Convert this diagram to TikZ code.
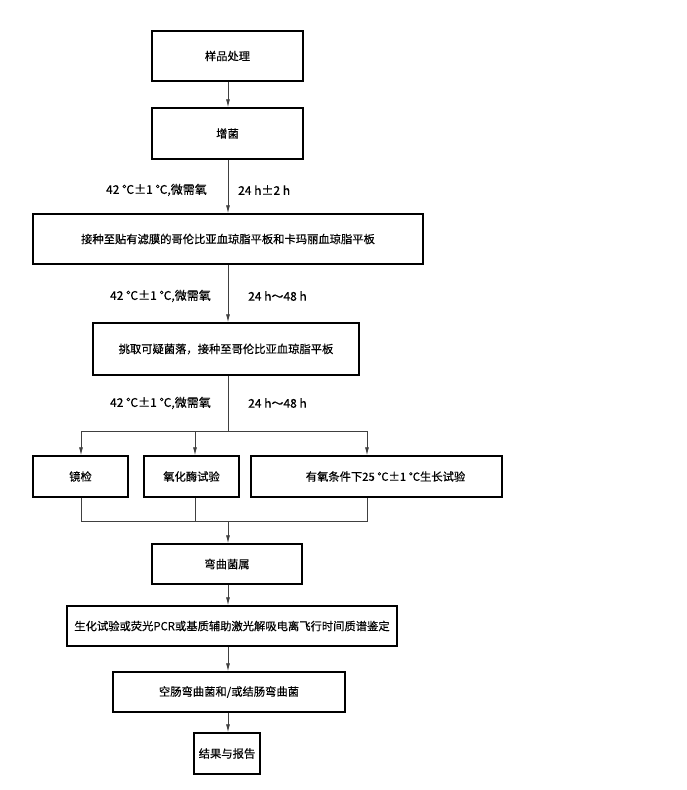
\documentclass[tikz,border=0pt]{standalone}
\usepackage{fontspec}
\setmainfont[FakeBold=0.4]{Noto Sans CJK SC}
\usetikzlibrary{arrows.meta}

\tikzstyle{box}=[draw, line width=1.4pt, inner sep=0pt, align=center, font=\fontsize{11.3}{13}\selectfont]
\tikzstyle{cond}=[inner sep=0pt, font=\fontsize{12}{14}\selectfont]
\tikzstyle{arrow}=[line width=0.8pt, black!75, -{Latex[length=8pt,width=4pt]}]
\tikzstyle{link}=[line width=0.8pt, black!75]

\begin{document}
\begin{tikzpicture}[x=1pt, y=-1pt]
      \useasboundingbox (0,0) rectangle (687,790);

      \node[box, minimum width=151pt, minimum height=50pt] (prep) at (227.5, 56) {样品处理};
      \node[box, minimum width=151pt, minimum height=51pt] (enrich) at (227.5, 133.5) {增菌};
      \node[box, minimum width=390pt, minimum height=50pt] (plate) at (228, 239) {接种至贴有滤膜的哥伦比亚血琼脂平板和卡玛丽血琼脂平板};
      \node[box, minimum width=266pt, minimum height=52pt] (pick) at (226, 349) {挑取可疑菌落，接种至哥伦比亚血琼脂平板};
      \node[box, minimum width=95pt, minimum height=41pt] (micro) at (80.5, 476.5) {镜检};
      \node[box, minimum width=95pt, minimum height=41pt] (oxid) at (191.5, 476.5) {氧化酶试验};
      \node[box, minimum width=251pt, minimum height=41pt] (growth) at (376.5, 476.5) {\hspace*{18pt}有氧条件下25 ℃±1 ℃生长试验};
      \node[box, minimum width=150pt, minimum height=40pt] (genus) at (227, 564) {弯曲菌属};
      \node[box, minimum width=330pt, minimum height=40pt] (ident) at (232, 626) {生化试验或荧光PCR或基质辅助激光解吸电离飞行时间质谱鉴定};
      \node[box, minimum width=232pt, minimum height=40pt] (species) at (229, 692) {空肠弯曲菌和/或结肠弯曲菌};
      \node[box, minimum width=66pt, minimum height=41pt] (report) at (227, 753.5) {结果与报告};

      \node[cond, anchor=east] (t1) at (207, 190) {42 ℃±1 ℃,微需氧};
      \node[cond, anchor=west] (h1) at (238, 190) {24 h±2 h};
      \node[cond, anchor=east] (t2) at (211, 296) {42 ℃±1 ℃,微需氧};
      \node[cond, anchor=west] (h2) at (248, 296) {24 h～48 h};
      \node[cond, anchor=east] (t3) at (211, 403) {42 ℃±1 ℃,微需氧};
      \node[cond, anchor=west] (h3) at (248, 403) {24 h～48 h};

      \coordinate (split) at (228, 431);
      \coordinate (b1) at (81, 431);
      \coordinate (b2) at (195, 431);
      \coordinate (b3) at (367, 431);
      \coordinate (join) at (228, 521);
      \coordinate (j1) at (81, 521);
      \coordinate (j2) at (195, 521);
      \coordinate (j3) at (367, 521);

      \draw[arrow] (prep.south -| split) -- (enrich.north -| split);
      \draw[arrow] (enrich.south -| split) -- (plate.north -| split);
      \draw[arrow] (plate.south -| split) -- (pick.north -| split);
      \draw[link] (pick.south -| split) -- (split);
      \draw[link] (b1) -- (b3);
      \draw[arrow] (b1) -- (micro.north -| b1);
      \draw[arrow] (b2) -- (oxid.north -| b2);
      \draw[arrow] (b3) -- (growth.north -| b3);
      \draw[link] (micro.south -| j1) -- (j1) -- (j3) -- (growth.south -| j3);
      \draw[link] (oxid.south -| j2) -- (j2);
      \draw[arrow] (join) -- (genus.north -| join);
      \draw[arrow] (genus.south -| split) -- (ident.north -| split);
      \draw[arrow] (ident.south -| split) -- (species.north -| split);
      \draw[arrow] (species.south -| split) -- (report.north -| split);
\end{tikzpicture}
\end{document}
